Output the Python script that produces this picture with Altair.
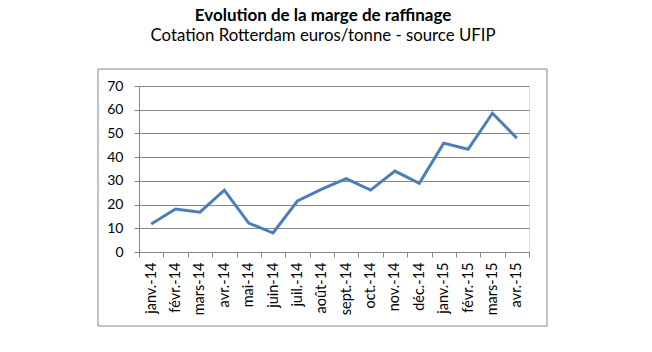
import altair as alt
import pandas as pd

months = ["janv.-14", "févr.-14", "mars-14", "avr.-14", "mai-14", "juin-14", "juil.-14",
          "août-14", "sept.-14", "oct.-14", "nov.-14", "déc.-14", "janv.-15", "févr.-15",
          "mars-15", "avr.-15"]
marge = [11.8, 18.1, 16.8, 26.1, 12.2, 8.0, 21.5, 26.5, 30.9, 26.1, 34.1, 29.0,
         45.9, 43.3, 58.5, 48.0]
y_ticks = [0, 10, 20, 30, 40, 50, 60, 70]

df = pd.DataFrame({"mois": months, "marge": marge})

FONT = "Lato"

frame = alt.Chart(df).mark_rect(fill=None, stroke="#868686", strokeWidth=1).encode(
    x=alt.value(-41), x2=alt.value(408), y=alt.value(-17), y2=alt.value(240)
).transform_filter(alt.datum.mois == months[0])

line = alt.Chart(df).mark_line(color="#4a7ebb", strokeWidth=3, strokeJoin="miter").encode(
    x=alt.X("mois:N", sort=months, title=None,
            scale=alt.Scale(paddingInner=0, paddingOuter=0),
            axis=alt.Axis(labelAngle=-90, tickBand="extent", grid=False,
                          domainColor="#868686", tickColor="#868686", tickSize=5,
                          labelPadding=5, labelFont=FONT, labelFontSize=14.5,
                          labelColor="#000000")),
    y=alt.Y("marge:Q", title=None,
            scale=alt.Scale(domain=[0, 70], nice=False),
            axis=alt.Axis(values=y_ticks, grid=True, gridColor="#868686",
                          domainColor="#868686", tickColor="#868686", tickSize=5,
                          labelPadding=11, labelFont=FONT, labelFontSize=14,
                          labelColor="#000000")),
)

chart = alt.layer(frame, line).properties(
    width=390, height=166,
    autosize=alt.AutoSizeParams(type="none"),
    padding={"left": 139, "top": 86, "right": 123, "bottom": 100},
    title=alt.TitleParams(
        text="Evolution de la marge de raffinage",
        subtitle="Cotation Rotterdam euros/tonne - source UFIP",
        font=FONT, fontSize=17, fontWeight="bold", color="#000000",
        subtitleFont=FONT, subtitleFontSize=16.8, subtitleColor="#000000",
        subtitlePadding=3, anchor="middle", frame="group", offset=23, dx=-11,
    ),
).configure_view(stroke=None).configure(background="white")

chart.save("out.html", embed_options={"renderer": "svg", "actions": False})
